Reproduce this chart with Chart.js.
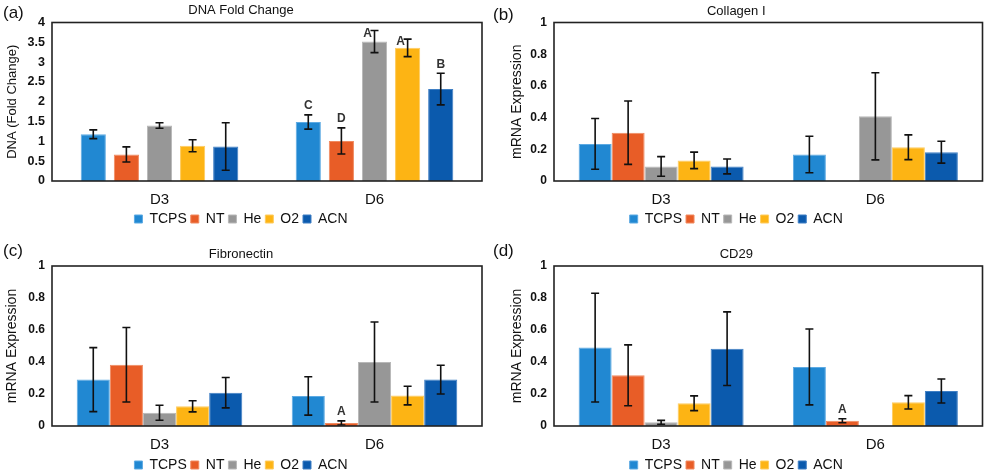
<!DOCTYPE html>
<html>
<head>
<meta charset="utf-8">
<script src="https://cdn.jsdelivr.net/npm/chart.js@4/dist/chart.umd.min.js"></script>
<style>
  html, body { margin: 0; padding: 0; background: #fff; overflow: hidden; width: 987px; height: 472px; }
  canvas { position: absolute; }
</style>
</head>
<body>
<canvas id="cA"></canvas>
<canvas id="cB"></canvas>
<canvas id="cC"></canvas>
<canvas id="cD"></canvas>
<script>
// categories and series
const days = ['D3', 'D6'];
const treatments = ['TCPS', 'NT', 'He', 'O2', 'ACN'];

// one row per treatment: [D3, D6]
const dnaMean = [[1.18, 1.49], [0.67, 1.01], [1.40, 3.52], [0.89, 3.36], [0.87, 2.32]];
const dnaErr = [[0.11, 0.18], [0.19, 0.33], [0.07, 0.28], [0.15, 0.22], [0.60, 0.40]];
const dnaLetters = [['', 'C'], ['', 'D'], ['', 'A'], ['', 'A'], ['', 'B']];

const colMean = [[0.234, 0.167], [0.305, null], [0.092, 0.408], [0.130, 0.213], [0.092, 0.182]];
const colErr = [[0.160, 0.115], [0.200, null], [0.062, 0.275], [0.052, 0.078], [0.047, 0.069]];
const colLetters = [['', ''], ['', ''], ['', ''], ['', ''], ['', '']];

const fnMean = [[0.290, 0.188], [0.383, 0.019], [0.083, 0.400], [0.123, 0.190], [0.208, 0.290]];
const fnErr = [[0.200, 0.120], [0.233, 0.013], [0.047, 0.250], [0.035, 0.058], [0.095, 0.090]];
const fnLetters = [['', ''], ['', 'A'], ['', ''], ['', ''], ['', '']];

const cdMean = [[0.490, 0.369], [0.317, 0.033], [0.023, null], [0.142, 0.148], [0.483, 0.219]];
const cdErr = [[0.340, 0.237], [0.190, 0.0125], [0.012, null], [0.046, 0.042], [0.230, 0.075]];
const cdLetters = [['', ''], ['', 'A'], ['', ''], ['', ''], ['', '']];

const dnaTicks = { max: 4, step: 0.5 };
const mrnaTicks = { max: 1, step: 0.2 };

// styling
const fillColors = ['#2188D2', '#E85D27', '#979797', '#FDB414', '#0B5AAD'];
const edgeColors = ['#5DAAE3', '#F08A60', '#B8B8B8', '#FECC60', '#3F7FC4'];
const FONT = "'Liberation Sans', Arial, sans-serif";

// draws the black frame round the plot area
const framePlugin = {
    id: 'frame',
    afterDraw(chart) {
        const a = chart.chartArea;
        const ctx = chart.ctx;
        ctx.save();
        ctx.strokeStyle = '#222';
        ctx.lineWidth = 1.6;
        ctx.strokeRect(a.left, a.top, a.right - a.left, a.bottom - a.top);
        ctx.restore();
    }
};

// error bars and significance letters
const errorPlugin = {
    id: 'errbars',
    afterDatasetsDraw(chart) {
        const ctx = chart.ctx;
        const y = chart.scales.y;
        const p = chart.options.plugins.errbars;
        ctx.save();
        chart.data.datasets.forEach((ds, i) => {
            const meta = chart.getDatasetMeta(i);
            meta.data.forEach((bar, j) => {
                const v = ds.data[j];
                const e = p.err[i][j];
                if (v == null || e == null) return;
                const yt = y.getPixelForValue(v + e);
                const yb = y.getPixelForValue(Math.max(v - e, 0));
                ctx.strokeStyle = '#111';
                ctx.lineWidth = 1.6;
                ctx.beginPath();
                ctx.moveTo(bar.x, yt); ctx.lineTo(bar.x, yb);
                ctx.moveTo(bar.x - 4, yt); ctx.lineTo(bar.x + 4, yt);
                ctx.moveTo(bar.x - 4, yb); ctx.lineTo(bar.x + 4, yb);
                ctx.stroke();

                const t = p.letters[i][j];
                if (!t) return;
                let lx = bar.x, ly = yt - 9;
                if (ly < chart.chartArea.top + 8) { lx = bar.x - 7; ly = yt + 3; }
                ctx.fillStyle = '#333';
                ctx.font = 'bold 12px ' + FONT;
                ctx.textAlign = 'center';
                ctx.textBaseline = 'middle';
                ctx.fillText(t, lx, ly);
            });
        });
        ctx.restore();
    }
};

// panel tag "(a)" etc.
const tagPlugin = {
    id: 'tag',
    afterDraw(chart) {
        const ctx = chart.ctx;
        ctx.save();
        ctx.fillStyle = '#111';
        ctx.font = '17px ' + FONT;
        ctx.textAlign = 'left';
        ctx.textBaseline = 'middle';
        ctx.fillText(chart.options.plugins.tag.text, 3, chart.options.plugins.tag.y);
        ctx.restore();
    }
};

function makePanel(id, opt) {
    const cv = document.getElementById(id);
    cv.width = opt.w;
    cv.height = opt.h;
    cv.style.left = opt.x + 'px';
    cv.style.top = opt.y + 'px';

    const titleLH = 13 * 1.2;
    const titlePadTop = opt.titleCY - titleLH / 2;
    const titlePadBottom = opt.top - titlePadTop - titleLH;
    const yTitleLH = opt.yTitleSize * 1.2;
    const legendTop = opt.legendCY - 7 - 4;

    return new Chart(cv, {
        type: 'bar',
        data: {
            labels: days,
            datasets: treatments.map((name, i) => ({
                label: name,
                data: opt.mean[i],
                backgroundColor: fillColors[i],
                borderColor: edgeColors[i],
                borderWidth: 1,
                categoryPercentage: 0.77,
                barPercentage: opt.barPct
            }))
        },
        options: {
            responsive: false,
            animation: false,
            layout: { padding: { left: 0, right: opt.w - opt.right, top: 0, bottom: 0 } },
            plugins: {
                title: {
                    display: true,
                    text: opt.title,
                    color: '#111',
                    font: { family: FONT, size: 13, weight: 'normal', lineHeight: 1.2 },
                    padding: { top: titlePadTop, bottom: titlePadBottom }
                },
                legend: {
                    position: 'bottom',
                    labels: {
                        boxWidth: 8,
                        boxHeight: 8,
                        padding: 4,
                        color: '#111',
                        font: { family: FONT, size: 14 }
                    }
                },
                tooltip: { enabled: false },
                errbars: { err: opt.err, letters: opt.letters },
                tag: { text: opt.tag, y: opt.tagY }
            },
            scales: {
                x: {
                    grid: { display: false, drawTicks: false },
                    border: { display: false },
                    ticks: { color: '#111', padding: 10, font: { family: FONT, size: 15 } },
                    afterFit(s) { s.height = legendTop - opt.bottom; }
                },
                y: {
                    min: 0,
                    max: opt.ticks.max,
                    grid: { display: false, drawTicks: false },
                    border: { display: false },
                    ticks: {
                        stepSize: opt.ticks.step,
                        color: '#111',
                        padding: 7,
                        font: { family: FONT, size: opt.tickSize, weight: 'bold' },
                        callback: v => String(+v.toFixed(2))
                    },
                    title: {
                        display: true,
                        text: opt.yTitle,
                        color: '#111',
                        font: { family: FONT, size: opt.yTitleSize, lineHeight: 1.2 },
                        padding: { top: opt.yTitleCX - yTitleLH / 2, bottom: 0 }
                    },
                    afterFit(s) { s.width = opt.left; }
                }
            }
        },
        plugins: [framePlugin, errorPlugin, tagPlugin]
    });
}

makePanel('cA', {
    x: 0, y: 0, w: 490, h: 236, left: 52, right: 482, top: 22.5, bottom: 181,
    titleCY: 10, legendCY: 219, tag: '(a)', tagY: 13, tickSize: 12.5,
    title: 'DNA Fold Change', yTitle: 'DNA (Fold Change)', yTitleSize: 13, yTitleCX: 12,
    mean: dnaMean, err: dnaErr, letters: dnaLetters, ticks: dnaTicks, barPct: 0.76
});
makePanel('cB', {
    x: 490, y: 0, w: 497, h: 236, left: 64, right: 492.5, top: 22.5, bottom: 181,
    titleCY: 11, legendCY: 219, tag: '(b)', tagY: 15, tickSize: 12,
    title: 'Collagen I', yTitle: 'mRNA Expression', yTitleSize: 14, yTitleCX: 27,
    mean: colMean, err: colErr, letters: colLetters, ticks: mrnaTicks, barPct: 1.0
});
makePanel('cC', {
    x: 0, y: 236, w: 490, h: 246, left: 52, right: 482, top: 30, bottom: 190,
    titleCY: 18, legendCY: 229, tag: '(c)', tagY: 15, tickSize: 12,
    title: 'Fibronectin', yTitle: 'mRNA Expression', yTitleSize: 14, yTitleCX: 12,
    mean: fnMean, err: fnErr, letters: fnLetters, ticks: mrnaTicks, barPct: 1.0
});
makePanel('cD', {
    x: 490, y: 236, w: 497, h: 246, left: 64, right: 492.5, top: 30, bottom: 190,
    titleCY: 18, legendCY: 229, tag: '(d)', tagY: 15, tickSize: 12,
    title: 'CD29', yTitle: 'mRNA Expression', yTitleSize: 14, yTitleCX: 27,
    mean: cdMean, err: cdErr, letters: cdLetters, ticks: mrnaTicks, barPct: 1.0
});
</script>
</body>
</html>
